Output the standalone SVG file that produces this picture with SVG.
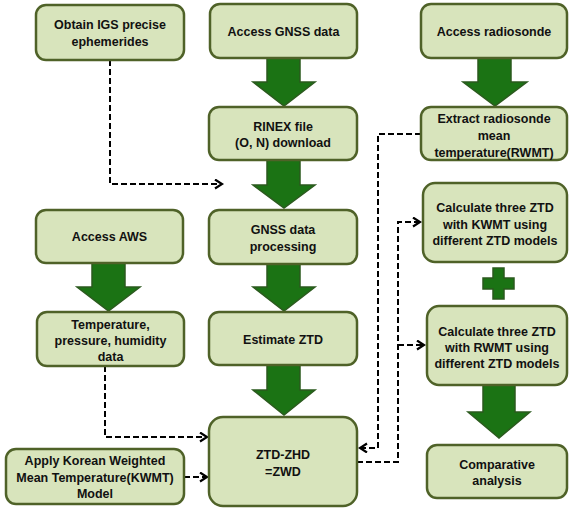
<svg xmlns="http://www.w3.org/2000/svg" width="569" height="510" viewBox="0 0 569 510">
<defs>
<style>
.box{fill:#d8e4bc;stroke:#4f6228;stroke-width:2.5}
.t{font-family:"Liberation Sans",Arial,sans-serif;font-weight:bold;font-size:12.5px;fill:#111;text-anchor:middle}
.ba{fill:#1b7314;stroke:#2b5a1e;stroke-width:1.5}
.dl{fill:none;stroke:#000;stroke-width:2;stroke-dasharray:6,3}
</style>
<marker id="ah" markerUnits="userSpaceOnUse" markerWidth="12" markerHeight="12" refX="8" refY="5" orient="auto">
<path d="M1,0.5 L8,5 L1,9.5" fill="none" stroke="#000" stroke-width="2.2"/>
</marker>
</defs>
<rect width="569" height="510" fill="#fff"/>
<g id="block-arrows">
<polygon class="ba" points="267,58 300,58 300,82 315,82 284,106 253,82 267,82"/>
<polygon class="ba" points="267,160 300,160 300,185 315,185 284,208 253,185 267,185"/>
<polygon class="ba" points="267,264 300,264 300,287 315,287 284,311 253,287 267,287"/>
<polygon class="ba" points="267,365 300,365 300,390 315,390 284,415 253,390 267,390"/>
<polygon class="ba" points="92,263 125,263 125,287 140,287 108.5,311 77,287 92,287"/>
<polygon class="ba" points="478,58 511,58 511,82 527,82 495,106 463,82 478,82"/>
<polygon class="ba" points="483,385 515,385 515,412 530,412 499,438 468,412 483,412"/>
<polygon class="ba" points="493,268 504,268 504,278 514,278 514,289 504,289 504,299 493,299 493,289 483,289 483,278 493,278"/>
</g>
<g id="connectors">
<path class="dl" d="M110,60 V184 H222" marker-end="url(#ah)"/>
<path class="dl" d="M105,366 V437 H207" marker-end="url(#ah)"/>
<path class="dl" d="M184,477 H207" marker-end="url(#ah)"/>
<path class="dl" d="M421,134 H378 V448 H360" marker-end="url(#ah)"/>
<path class="dl" d="M357,462 H398 V222 H420" marker-end="url(#ah)"/>
<path class="dl" d="M398,345 H424" marker-end="url(#ah)"/>
</g>
<g id="igs"><rect class="box" x="36" y="5" width="148" height="55" rx="10"/>
<text class="t" x="110" y="29">Obtain IGS precise</text><text class="t" x="110" y="46">ephemerides</text></g>
<g id="gnss"><rect class="box" x="210" y="4" width="147" height="54" rx="10"/>
<text class="t" x="283.5" y="35.5">Access GNSS data</text></g>
<g id="radiosonde"><rect class="box" x="421" y="4" width="146" height="54" rx="10"/>
<text class="t" x="494" y="35.5">Access radiosonde</text></g>
<g id="rinex"><rect class="box" x="209" y="107" width="148" height="53" rx="10"/>
<text class="t" x="283" y="130.5">RINEX file</text><text class="t" x="283" y="147">(O, N) download</text></g>
<g id="extract"><rect class="box" x="421" y="107" width="146" height="53" rx="10"/>
<text class="t" x="494" y="122.5">Extract radiosonde</text><text class="t" x="494" y="139.5">mean</text><text class="t" x="494" y="156.5">temperature(RWMT)</text></g>
<g id="aws"><rect class="box" x="36" y="210" width="147" height="53" rx="10"/>
<text class="t" x="109.5" y="240.5">Access AWS</text></g>
<g id="gnssproc"><rect class="box" x="209" y="210" width="148" height="54" rx="10"/>
<text class="t" x="283" y="233.5">GNSS data</text><text class="t" x="283" y="250.5">processing</text></g>
<g id="temp"><rect class="box" x="37" y="312" width="147" height="54" rx="10"/>
<text class="t" x="110.5" y="328.5">Temperature,</text><text class="t" x="110.5" y="344.5">pressure, humidity</text><text class="t" x="110.5" y="361">data</text></g>
<g id="estimate"><rect class="box" x="209" y="312" width="148" height="53" rx="10"/>
<text class="t" x="283" y="343.5">Estimate ZTD</text></g>
<g id="kwmt"><rect class="box" x="423" y="183" width="144" height="79" rx="12"/>
<text class="t" x="495" y="211.5">Calculate three ZTD</text><text class="t" x="495" y="228.5">with KWMT using</text><text class="t" x="495" y="244.5">different ZTD models</text></g>
<g id="rwmt"><rect class="box" x="427" y="306" width="140" height="79" rx="12"/>
<text class="t" x="497" y="335.5">Calculate three ZTD</text><text class="t" x="497" y="351.5">with RWMT using</text><text class="t" x="497" y="367.5">different ZTD models</text></g>
<g id="ztd"><rect class="box" x="209" y="417" width="148" height="89" rx="14"/>
<text class="t" x="283" y="458.5">ZTD-ZHD</text><text class="t" x="283" y="476">=ZWD</text></g>
<g id="korean"><rect class="box" x="6" y="449" width="178" height="55" rx="10"/>
<text class="t" x="95" y="464.5">Apply Korean Weighted</text><text class="t" x="95" y="481.5">Mean Temperature(KWMT)</text><text class="t" x="95" y="497.5">Model</text></g>
<g id="comparative"><rect class="box" x="427" y="445" width="140" height="53" rx="10"/>
<text class="t" x="497" y="468.5">Comparative</text><text class="t" x="497" y="484.5">analysis</text></g>
</svg>
